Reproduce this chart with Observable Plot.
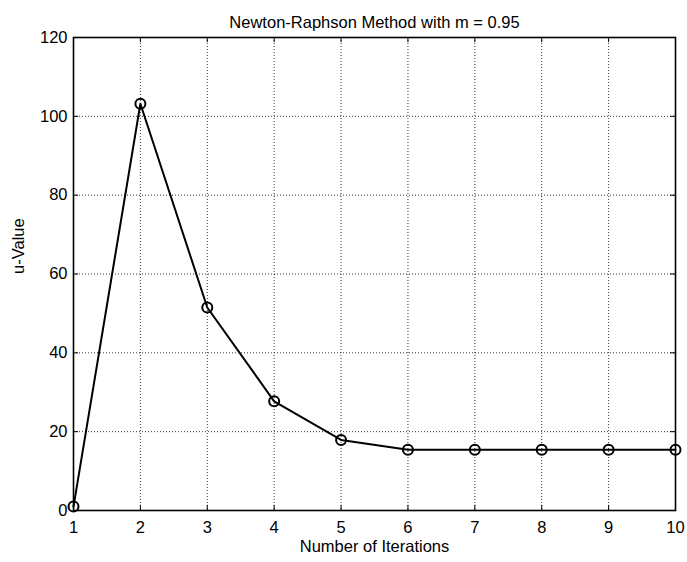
<!DOCTYPE html>
<html>
<head>
<meta charset="utf-8">
<script src="https://cdn.jsdelivr.net/npm/d3@7"></script>
<script src="https://cdn.jsdelivr.net/npm/@observablehq/plot@0.6"></script>
<style>
  html, body { margin: 0; padding: 0; background: #fff; }
  #chart svg { display: block; }
</style>
</head>
<body>
<div id="chart"></div>
<script>
const iterations = [1, 2, 3, 4, 5, 6, 7, 8, 9, 10];
const uValues = [1, 103.2, 51.5, 27.7, 17.9, 15.4, 15.4, 15.4, 15.4, 15.4];
const xTicks = [1, 2, 3, 4, 5, 6, 7, 8, 9, 10];
const yTicks = [0, 20, 40, 60, 80, 100, 120];
const titleText = "Newton-Raphson Method with m = 0.95";
const xLabel = "Number of Iterations";
const yLabel = "u-Value";

const data = iterations.map((x, i) => ({x, u: uValues[i]}));
const FS = 16.5;

const chart = Plot.plot({
  width: 687,
  height: 562,
  marginLeft: 73,
  marginRight: 12,
  marginTop: 37,
  marginBottom: 52,
  style: {fontFamily: "'Liberation Sans', Arial, sans-serif", fontSize: FS + "px", color: "#000", background: "#fff"},
  x: {domain: [1, 10]},
  y: {domain: [0, 120]},
  marks: [
    Plot.gridX(xTicks, {stroke: "#000", strokeOpacity: 1, strokeWidth: 0.8, strokeDasharray: "1,2"}),
    Plot.gridY(yTicks, {stroke: "#000", strokeOpacity: 1, strokeWidth: 0.8, strokeDasharray: "1,2"}),
    Plot.ruleX(xTicks, {x: d => d, y1: 0, y2: 1.3, stroke: "#000", strokeWidth: 1}),
    Plot.ruleX(xTicks, {x: d => d, y1: 118.7, y2: 120, stroke: "#000", strokeWidth: 1}),
    Plot.ruleY(yTicks, {y: d => d, x1: 1, x2: 1.075, stroke: "#000", strokeWidth: 1}),
    Plot.ruleY(yTicks, {y: d => d, x1: 9.925, x2: 10, stroke: "#000", strokeWidth: 1}),
    Plot.frame({stroke: "#000", strokeWidth: 1.6}),
    Plot.axisX(xTicks, {tickSize: 0, tickPadding: 11, label: null, fontSize: FS, fill: "#000"}),
    Plot.axisY(yTicks, {tickSize: 0, tickPadding: 6, label: null, fontSize: FS, fill: "#000"}),
    Plot.line(data, {x: "x", y: "u", stroke: "#000", strokeWidth: 2}),
    Plot.dot(data, {x: "x", y: "u", r: 5, stroke: "#000", strokeWidth: 2, fill: "none"}),
    Plot.text([titleText], {frameAnchor: "top", dy: -21.5, fontSize: FS, fill: "#000"}),
    Plot.text([xLabel], {frameAnchor: "bottom", dy: 41, fontSize: FS, fill: "#000"}),
    Plot.text([yLabel], {frameAnchor: "left", dx: -54.5, rotate: -90, fontSize: FS, fill: "#000"})
  ]
});
document.getElementById("chart").appendChild(chart);
</script>
</body>
</html>
